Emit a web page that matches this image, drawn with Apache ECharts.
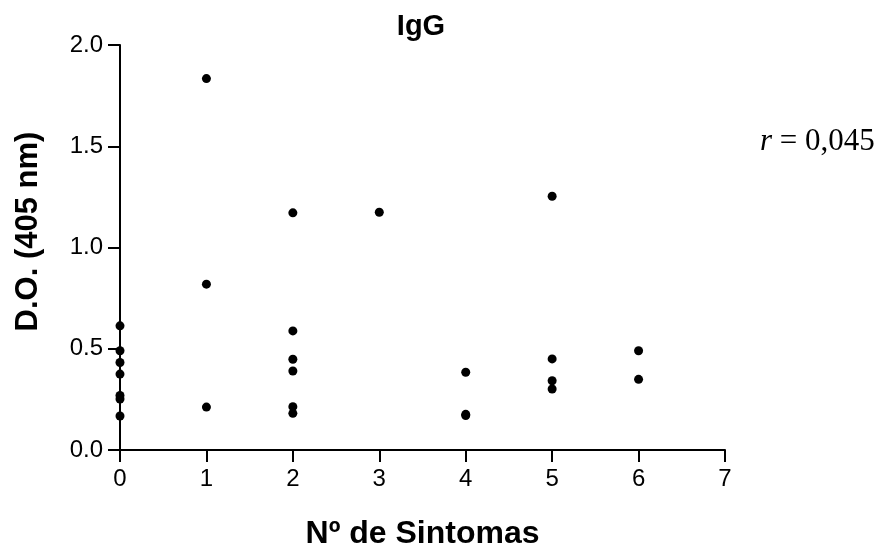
<!DOCTYPE html>
<html>
<head>
<meta charset="utf-8">
<script src="https://cdn.jsdelivr.net/npm/echarts@6/dist/echarts.min.js"></script>
<style>
  html, body { margin: 0; padding: 0; background: #fff; }
  #chart { width: 881px; height: 550px; }
</style>
</head>
<body>
<div id="chart"></div>
<script>
// Number of symptoms per patient
const sintomas = [0, 0, 0, 0, 0, 0, 0,
                  1, 1, 1,
                  2, 2, 2, 2, 2, 2,
                  3,
                  4, 4, 4,
                  5, 5, 5, 5,
                  6, 6];
// IgG optical density (405 nm) for each patient
const densidade = [0.613, 0.490, 0.432, 0.375, 0.269, 0.252, 0.168,
                   1.834, 0.819, 0.212,
                   1.171, 0.588, 0.448, 0.390, 0.214, 0.181,
                   1.174,
                   0.384, 0.176, 0.170,
                   1.253, 0.450, 0.342, 0.301,
                   0.490, 0.349];
const xTicks = [0, 1, 2, 3, 4, 5, 6, 7];
const yTicks = [0.0, 0.5, 1.0, 1.5, 2.0];
const correlacao = 'r = 0,045';

const pontos = sintomas.map((s, i) => [s, densidade[i]]);

const sans = 'Liberation Sans, Arial, sans-serif';
const serif = 'Liberation Serif, Times New Roman, serif';
const axisFont = { fontFamily: sans, fontSize: 24, color: '#000' };
const nameFont = { fontFamily: sans, fontWeight: 'bold', color: '#000' };

const chart = echarts.init(document.getElementById('chart'));
chart.setOption({
  animation: false,
  backgroundColor: '#fff',
  title: {
    text: 'IgG',
    left: 416, top: 7, textAlign: 'center',
    textStyle: { fontFamily: sans, fontSize: 29, fontWeight: 'bold', color: '#000' }
  },
  grid: { left: 120, right: 156, top: 45, bottom: 100, containLabel: false, outerBoundsMode: 'none' },
  xAxis: {
    type: 'value',
    min: xTicks[0], max: xTicks[xTicks.length - 1], interval: 1,
    name: 'Nº de Sintomas',
    nameLocation: 'middle', nameGap: 68,
    nameTextStyle: { ...nameFont, fontSize: 32 },
    axisLine: { show: true, onZero: false, lineStyle: { color: '#000', width: 2 } },
    axisTick: { show: true, length: 12, lineStyle: { color: '#000', width: 2 } },
    axisLabel: { ...axisFont, margin: 17, formatter: v => String(v) },
    splitLine: { show: false }
  },
  yAxis: {
    type: 'value',
    min: yTicks[0], max: yTicks[yTicks.length - 1], interval: 0.5,
    name: 'D.O. (405 nm)',
    nameLocation: 'middle', nameGap: 76, nameRotate: 90,
    nameTextStyle: { ...nameFont, fontSize: 31, padding: [0, 0, 0, 32] },
    axisLine: { show: true, onZero: false, lineStyle: { color: '#000', width: 2 } },
    axisTick: { show: true, length: 12, lineStyle: { color: '#000', width: 2 } },
    axisLabel: { ...axisFont, margin: 17, formatter: v => v.toFixed(1) },
    splitLine: { show: false }
  },
  graphic: [{
    type: 'text',
    left: 760, top: 126,
    style: {
      rich: {
        r: { fontFamily: serif, fontStyle: 'italic', fontSize: 31, fill: '#000' },
        t: { fontFamily: serif, fontSize: 31, fill: '#000' }
      },
      text: '{r|r}{t|' + correlacao.slice(1) + '}'
    }
  }],
  series: [{
    type: 'scatter',
    data: pontos,
    symbol: 'circle',
    symbolSize: 9,
    itemStyle: { color: '#000', opacity: 1 }
  }]
});
</script>
</body>
</html>
